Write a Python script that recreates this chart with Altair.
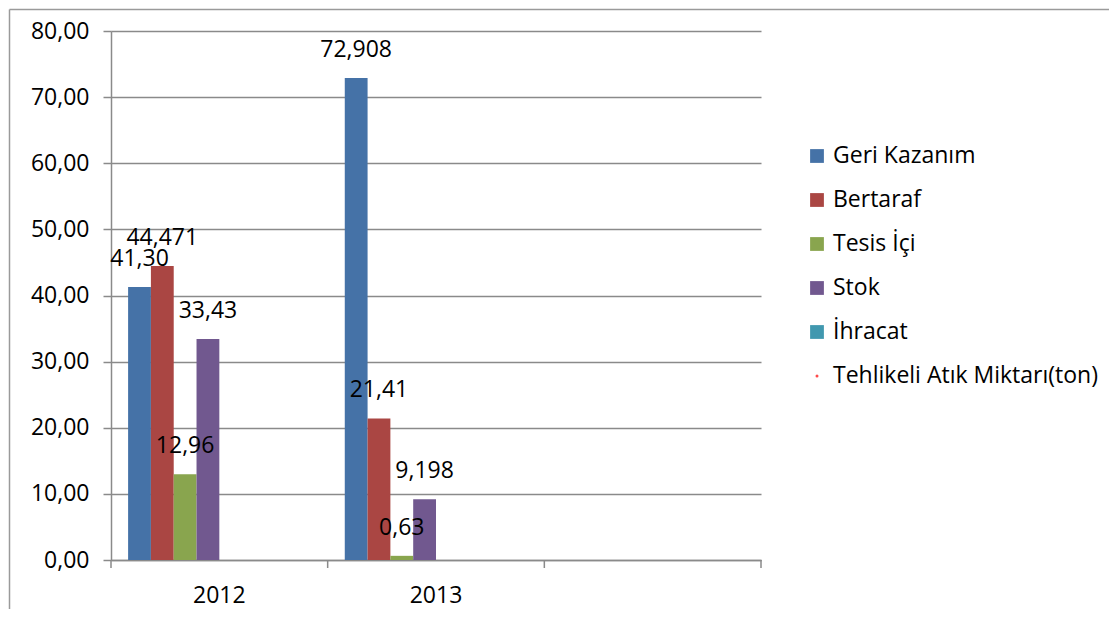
import altair as alt
import pandas as pd

# ---------------- data ----------------
categories = ["2012", "2013", " "]          # third category slot is empty on the axis
series = ["Geri Kazanım", "Bertaraf", "Tesis İçi", "Stok", "İhracat"]
legend_items = series + ["Tehlikeli Atık Miktarı(ton)"]
offset_slots = legend_items + ["Seri 7", "Seri 8"]   # 8 series slots per category
colors = ["#4572A7", "#AA4643", "#89A54E", "#71588F", "#4198AF", "#FF4A4A"]

values_2012 = [41.30, 44.471, 12.96, 33.43, 0.0]
values_2013 = [72.908, 21.41, 0.63, 9.198, 0.0]
labels_2012 = ["41,30", "44,471", "12,96", "33,43", ""]
labels_2013 = ["72,908", "21,41", "0,63", "9,198", ""]
y_ticks = [0, 10, 20, 30, 40, 50, 60, 70, 80]

FONT = "Open Sans"
FS = 23
GRID = "#8A8A8A"
W, H = 650, 529

rows = []
for yr, vals, labs in [("2012", values_2012, labels_2012), ("2013", values_2013, labels_2013)]:
    for s, v, l in zip(series, vals, labs):
        rows.append({"year": yr, "series": s, "value": v, "label": l})
df = pd.DataFrame(rows)
cat_df = pd.DataFrame({"year": categories})
leg_df = pd.DataFrame({"series": legend_items})
one = pd.DataFrame({"k": [0]})

x_scale = alt.Scale(domain=categories, paddingInner=0, paddingOuter=0)
x_enc = alt.X(
    "year:N",
    scale=x_scale,
    title=None,
    axis=alt.Axis(
        labelAngle=0, ticks=False, tickSize=0, grid=False,
        domainColor=GRID, domainWidth=1.5,
        labelFont=FONT, labelFontSize=FS, labelColor="black", labelPadding=24,
    ),
)
xoff = alt.XOffset("series:N", scale=alt.Scale(domain=offset_slots, paddingInner=0, paddingOuter=0.75))
y_enc = alt.Y(
    "value:Q",
    scale=alt.Scale(domain=[0, 80], nice=False, zero=True),
    title=None,
    axis=alt.Axis(
        values=y_ticks,
        labelExpr="replace(format(datum.value, '.2f'), '.', ',')",
        grid=True, gridColor=GRID, gridWidth=1.5,
        domainColor=GRID, domainWidth=1.5,
        tickColor=GRID, tickSize=8, tickWidth=1.5,
        labelFont=FONT, labelFontSize=FS, labelColor="black", labelPadding=14,
    ),
)
color_scale = alt.Scale(domain=legend_items, range=colors)

bars = alt.Chart(df).mark_bar().encode(
    x=x_enc, xOffset=xoff, y=y_enc,
    color=alt.Color("series:N", scale=color_scale, legend=None),
)
texts = alt.Chart(df).mark_text(
    baseline="middle", dy=-28, font=FONT, fontSize=FS, color="black"
).encode(x=alt.X("year:N"), xOffset=alt.XOffset("series:N"), y=alt.Y("value:Q"), text="label:N")

cat_ticks = alt.Chart(cat_df).mark_rule(color=GRID, strokeWidth=1.5).encode(
    x=alt.X("year:N", bandPosition=0), y=alt.value(H), y2=alt.value(H + 8)
)
end_tick = alt.Chart(cat_df).transform_filter(alt.datum.year == " ").mark_rule(
    color=GRID, strokeWidth=1.5
).encode(x=alt.X("year:N", bandPosition=1), y=alt.value(H), y2=alt.value(H + 8))

plot = alt.layer(bars, texts, cat_ticks, end_tick)

leg_y = alt.Y("series:N", scale=alt.Scale(domain=legend_items, range=[125, 345], padding=0), axis=None)
leg_sq = alt.Chart(leg_df).transform_filter(
    alt.FieldOneOfPredicate(field="series", oneOf=series)
).mark_square(size=190, opacity=1).encode(
    x=alt.value(706), y=leg_y, color=alt.Color("series:N", scale=color_scale, legend=None)
)
leg_dot = alt.Chart(leg_df).transform_filter(
    alt.datum.series == legend_items[-1]
).mark_circle(size=9, opacity=1, dy=-4).encode(
    x=alt.value(706), y=leg_y, color=alt.Color("series:N", scale=color_scale, legend=None)
)
leg_txt = alt.Chart(leg_df).mark_text(
    align="left", baseline="middle", font=FONT, fontSize=FS, color="black"
).encode(x=alt.value(722), y=leg_y, text="series:N")
legend = alt.layer(leg_sq, leg_dot, leg_txt)

frame_left = alt.Chart(one).mark_rule(color="#9A9A9A", strokeWidth=1.5).encode(
    x=alt.value(-101.5), y=alt.value(-21.5), y2=alt.value(578)
)
frame_top = alt.Chart(one).mark_rule(color="#9A9A9A", strokeWidth=1.5).encode(
    x=alt.value(-101.5), x2=alt.value(998), y=alt.value(-21.5)
)

chart = (
    alt.layer(plot, legend, frame_left, frame_top)
    .resolve_scale(y="independent")
    .properties(width=W, height=H, padding=0, background="white")
    .configure_view(stroke=None)
)

chart.save("out.html", embed_options={"renderer": "svg", "actions": False})
